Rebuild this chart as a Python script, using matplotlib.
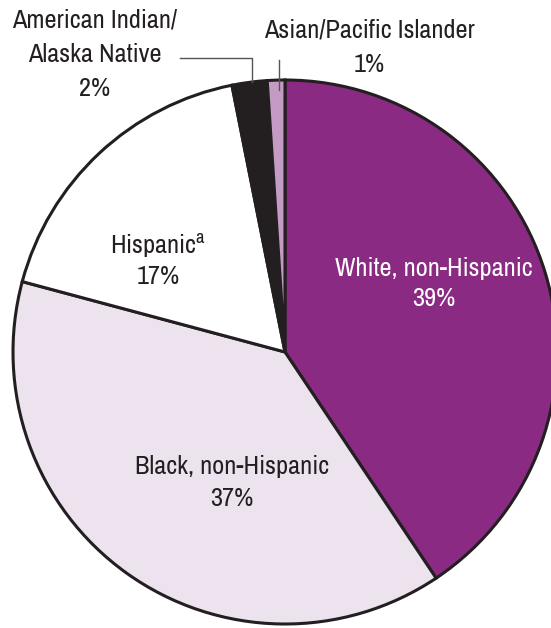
import matplotlib.pyplot as plt
from matplotlib import font_manager

# prefer a narrow face for the labels when one is installed
narrow = sorted({f.name for f in font_manager.fontManager.ttflist
                 if 'Condensed' in f.name or 'Narrow' in f.name
                 or f.stretch not in ('normal', 500, 'medium')})
plt.rcParams['font.family'] = (narrow[:1] or []) + ['DejaVu Sans']

groups = ['White, non-Hispanic', 'Black, non-Hispanic', 'Hispanic',
          'American Indian/\nAlaska Native', 'Asian/Pacific Islander']
shares = [39, 37, 17, 2, 1]
colors = ['#8b2a82', '#ede3ef', '#ffffff', '#231f20', '#c39bc5']

W, H = 551, 628
fig = plt.figure(figsize=(W / 100, H / 100), dpi=100)
ax = fig.add_axes([0, 0, 1, 1])

cx, cy, r = 285, H - 352, 272
ax.pie(shares, colors=colors, startangle=90, counterclock=False,
       center=(cx, cy), radius=r, frame=True,
       wedgeprops=dict(edgecolor='#231f20', linewidth=2.2))
ax.set_xlim(0, W)
ax.set_ylim(0, H)
ax.set_aspect('equal')
ax.axis('off')

fs = 19 if narrow else 15
txt = '#231f20'

def label(x, y, lines, color=txt, step=31):
    for i, s in enumerate(lines):
        ax.text(x, H - y - i * step, s, ha='center', va='center',
                fontsize=fs, color=color)

label(434, 268, ['White, non-Hispanic', f'{shares[0]}%'], color='white')
label(232, 467, ['Black, non-Hispanic', f'{shares[1]}%'])
label(158, 246, ['Hispanic$^{\\mathregular{a}}$', f'{shares[2]}%'])
label(95, 20, ['American Indian/', 'Alaska Native', f'{shares[3]}%'], step=34)
label(369, 30, ['Asian/Pacific Islander', f'{shares[4]}%'], step=34)

# leader lines to the two thin slices
ax.plot([180, 252, 252], [H - 58, H - 58, H - 82], color='#555555', lw=1)
ax.plot([279, 279], [H - 60, H - 90], color='#555555', lw=1)

fig.savefig('out.png', dpi=100)
